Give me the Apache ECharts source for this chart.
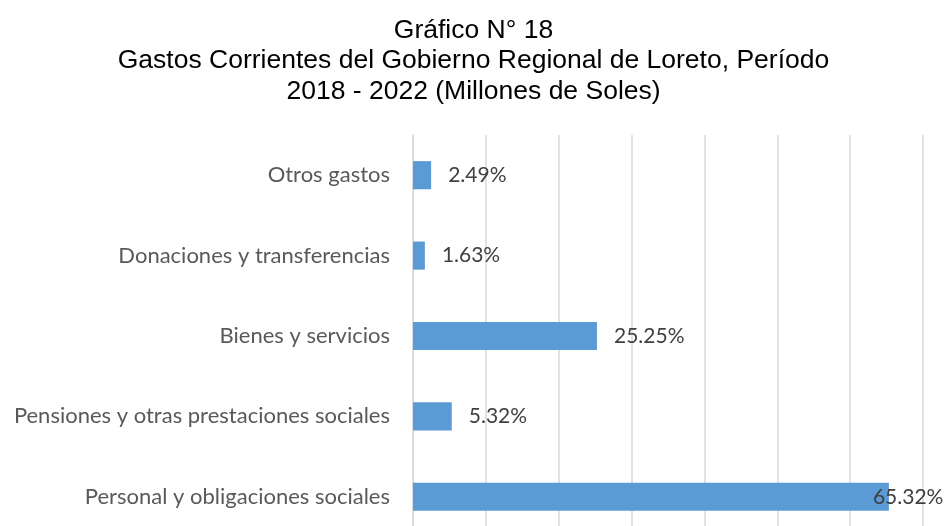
<!DOCTYPE html>
<html>
<head>
<meta charset="utf-8">
<script src="https://cdn.jsdelivr.net/npm/echarts@6/dist/echarts.min.js"></script>
<style>
  html, body { margin: 0; padding: 0; background: #fff; }
  #chart { width: 947px; height: 526px; }
</style>
</head>
<body>
<div id="chart"></div>
<script>
// categorías (de abajo hacia arriba)
const categorias = [
  'Personal y obligaciones sociales',
  'Pensiones y otras prestaciones sociales',
  'Bienes y servicios',
  'Donaciones y transferencias',
  'Otros gastos'
];
// porcentaje del gasto corriente
const porcentajes = [65.32, 5.32, 25.25, 1.63, 2.49];

const titulo = 'Gráfico N° 18\nGastos Corrientes del Gobierno Regional de Loreto, Período\n2018 - 2022 (Millones de Soles)';

const myChart = echarts.init(document.getElementById('chart'));

const data = porcentajes.map((v, i) => {
  const item = { value: v };
  // la etiqueta más larga se corre hacia dentro, como en Excel
  if (i === 0) {
    item.label = { offset: [-33, 0] };
  }
  return item;
});

myChart.setOption({
  animation: false,
  title: {
    text: titulo,
    left: 'center',
    top: 10,
    textStyle: {
      fontFamily: '"Liberation Sans", Arial, sans-serif',
      fontWeight: 'normal',
      fontSize: 26.5,
      lineHeight: 30.5,
      color: '#000'
    }
  },
  grid: {
    left: 413,
    right: 24,
    top: 135,
    height: 402,
    outerBoundsMode: 'none'
  },
  xAxis: {
    type: 'value',
    min: 0,
    max: 70,
    interval: 10,
    axisLabel: { show: false },
    axisTick: { show: false },
    axisLine: { show: false },
    splitLine: {
      lineStyle: { color: '#D9D9D9', width: 1.5 }
    }
  },
  yAxis: {
    type: 'category',
    data: categorias,
    axisTick: { show: false },
    axisLine: {
      lineStyle: { color: '#D9D9D9', width: 1.5 }
    },
    axisLabel: {
      margin: 23,
      color: '#595959',
      fontFamily: 'Lato, "Open Sans", sans-serif',
      fontSize: 22
    }
  },
  series: [
    {
      type: 'bar',
      data: data,
      barWidth: '35%',
      itemStyle: { color: '#5B9BD5' },
      label: {
        show: true,
        position: 'right',
        distance: 17,
        formatter: (p) => p.value.toFixed(2) + '%',
        color: '#404040',
        fontFamily: 'Lato, "Open Sans", sans-serif',
        fontSize: 21
      }
    }
  ]
});
</script>
</body>
</html>
